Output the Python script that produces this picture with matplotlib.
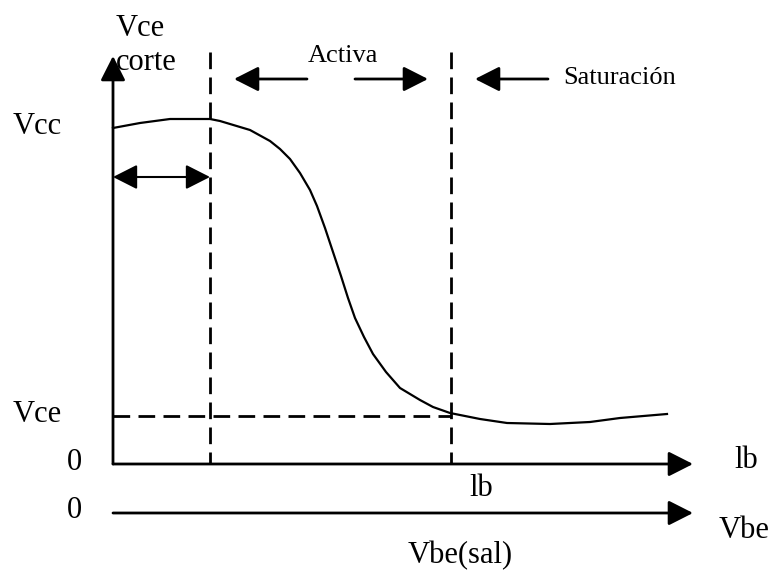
import matplotlib
matplotlib.use("Agg")
import matplotlib.pyplot as plt

plt.rcParams['font.family'] = ['Liberation Serif', 'DejaVu Serif']

# Curve Vce vs Ib (in picture pixel units, y downward)
curve_x = [113, 140, 170, 210, 220, 250, 270, 280, 290, 300, 310, 317, 325, 333, 341, 348,
           355, 364, 373, 386, 400, 420, 433, 450, 480, 507, 550, 590, 620, 667]
curve_y = [128, 123, 119, 119, 121, 130, 141, 149, 159, 173, 190, 206, 228, 252, 276, 298,
           318, 337, 354, 372, 388, 400, 407, 413, 419, 423, 424, 422, 418, 414]

# Region boundaries (x) and levels (y)
boundary_x = [210, 451]
vce_level = 416
axis_left = 113
ib_axis_y = 464
vbe_axis_y = 513
axis_right = 693
axis_top = 56
dash_top = 52

fig = plt.figure(figsize=(7.72, 5.71), dpi=100)
ax = fig.add_axes([0, 0, 1, 1])
ax.set_xlim(0, 772)
ax.set_ylim(571, 0)
ax.axis('off')

arrow_kw = dict(arrowstyle='-|>,head_length=0.75,head_width=0.38', mutation_scale=20,
                lw=2, color='black', shrinkA=0, shrinkB=0)

# Axes
ax.annotate('', xy=(axis_left, axis_top), xytext=(axis_left, ib_axis_y), arrowprops=arrow_kw)
ax.annotate('', xy=(axis_right, ib_axis_y), xytext=(axis_left, ib_axis_y), arrowprops=arrow_kw)
ax.annotate('', xy=(axis_right, vbe_axis_y), xytext=(axis_left, vbe_axis_y), arrowprops=arrow_kw)

# Curve
ax.plot(curve_x, curve_y, color='black', lw=1.6, solid_joinstyle='round')

# Dashed lines
for bx in boundary_x:
    ax.plot([bx, bx], [dash_top, ib_axis_y], color='black', lw=2, dashes=(6, 3))
ax.plot([axis_left, boundary_x[1]], [vce_level, vce_level], color='black', lw=2, dashes=(6, 3))

# Region arrows
dbl_kw = dict(arrow_kw)
dbl_kw['arrowstyle'] = '<|-|>,head_length=0.75,head_width=0.38'
dbl_kw['lw'] = 1.5
ax.annotate('', xy=(boundary_x[0], 177), xytext=(axis_left, 177), arrowprops=dbl_kw)
ax.annotate('', xy=(234, 79), xytext=(307, 79), arrowprops=arrow_kw)
ax.annotate('', xy=(428, 79), xytext=(355, 79), arrowprops=arrow_kw)
ax.annotate('', xy=(475, 79), xytext=(548, 79), arrowprops=arrow_kw)

# Texts
fs = 22
fs2 = 19
ax.text(140, 29, 'Vce', fontsize=fs, ha='center', va='center')
ax.text(146, 62, 'corte', fontsize=fs, ha='center', va='center')
ax.text(343, 56, 'Activa', fontsize=fs2, ha='center', va='center')
ax.text(620, 78, 'Saturación', fontsize=fs2, ha='center', va='center')
ax.text(37, 126, 'Vcc', fontsize=fs, ha='center', va='center')
ax.text(37, 414, 'Vce', fontsize=fs, ha='center', va='center')
ax.text(74, 462, '0', fontsize=fs, ha='center', va='center')
ax.text(74, 510, '0', fontsize=fs, ha='center', va='center')
ax.text(746, 460, 'lb', fontsize=fs, ha='center', va='center')
ax.text(481, 488, 'lb', fontsize=fs, ha='center', va='center')
ax.text(744, 530, 'Vbe', fontsize=fs, ha='center', va='center')
ax.text(460, 556, 'Vbe(sal)', fontsize=fs, ha='center', va='center')

fig.savefig('out.png', dpi=100)
